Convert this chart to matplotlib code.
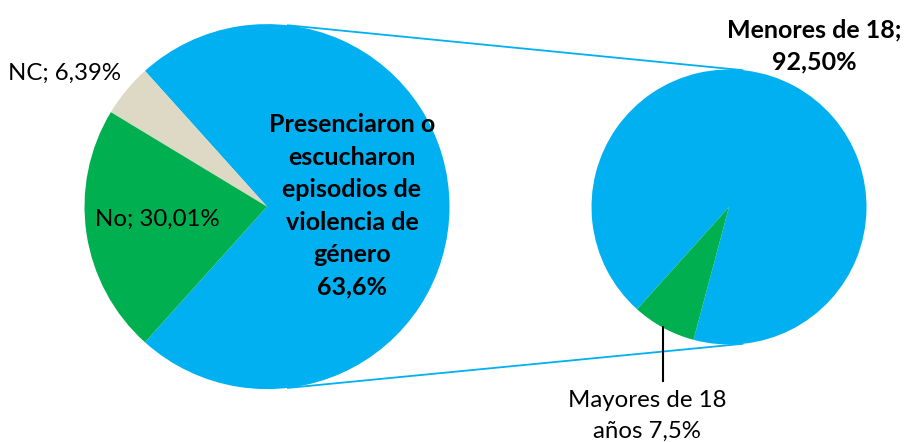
import numpy as np
import matplotlib
matplotlib.use("Agg")
import matplotlib.pyplot as plt

# ---- data ----
main_labels = ["No", "NC"]
main_values = [30.01, 6.39]
sub_labels = ["Menores de 18", "Mayores de 18 años"]
sub_values = [92.50, 7.50]
label_presenciaron = "Presenciaron o\nescucharon\nepisodios de\nviolencia de\ngénero\n63,6%"
label_no = "No; 30,01%"
label_nc = "NC; 6,39%"
label_menores = "Menores de 18;\n92,50%"
label_mayores = "Mayores de 18\naños 7,5%"

BLUE = "#00B0F0"
GREEN = "#00B050"
BEIGE = "#DDD9C4"

W, H = 906, 442
fig = plt.figure(figsize=(W / 100, H / 100), dpi=100)
ax = fig.add_axes([0, 0, 1, 1])

plt.rcParams['font.family'] = ['Lato', 'DejaVu Sans']

# left pie: aggregated wedge (sum of sub pie) + others
lc = (267, H - 206.6)
lr = 182.5
agg = sum(sub_values)
vals_left = [agg, main_values[1], main_values[0]]
tot = sum(vals_left)
agg_deg = agg / tot * 360
start_left = -agg_deg / 2
ax.pie(vals_left, colors=[BLUE, BEIGE, GREEN], startangle=start_left,
       counterclock=True, center=lc, radius=lr,
       wedgeprops=dict(linewidth=0), frame=True)

# right pie
rc = (729, H - 207)
rr = 137.5
ax.pie([sub_values[0], sub_values[1]], colors=[BLUE, GREEN],
       startangle=start_left - sub_values[0] / sum(sub_values) * 360,
       counterclock=True, center=rc, radius=rr,
       wedgeprops=dict(linewidth=0), frame=True)

# connector lines
for sgn in (1, -1):
    a1 = np.deg2rad(sgn * 83.7)
    a2 = np.deg2rad(sgn * 84.0)
    p1 = (lc[0] + lr * np.cos(a1), lc[1] + lr * np.sin(a1))
    p2 = (rc[0] + rr * np.cos(a2), rc[1] + rr * np.sin(a2))
    ax.plot([p1[0], p2[0]], [p1[1], p2[1]], color=BLUE, lw=1.3, zorder=1,
            solid_capstyle='butt')

# leader line for Mayores
ax.plot([663.3, 663.3], [H - 327, H - 381], color="black", lw=1.5, zorder=3)

fs = 18
fsn = 17.3
ls = 1.5
ax.text(352, H - 206, label_presenciaron, ha="center", va="center",
        fontsize=fs, fontweight="bold", linespacing=ls, zorder=5)
ax.text(157, H - 219, label_no, ha="center", va="center", fontsize=fsn, zorder=5)
ax.text(65, H - 73, label_nc, ha="center", va="center", fontsize=fsn, zorder=5)
ax.text(814, H - 46, label_menores, ha="center", va="center", fontsize=fs,
        fontweight="bold", linespacing=ls, zorder=5)
ax.text(647, H - 416, label_mayores, ha="center", va="center", fontsize=fsn,
        linespacing=1.56, zorder=5)

ax.set_xlim(0, W)
ax.set_ylim(0, H)
ax.set_aspect("equal")
ax.axis("off")

fig.savefig("out.png", dpi=100)
